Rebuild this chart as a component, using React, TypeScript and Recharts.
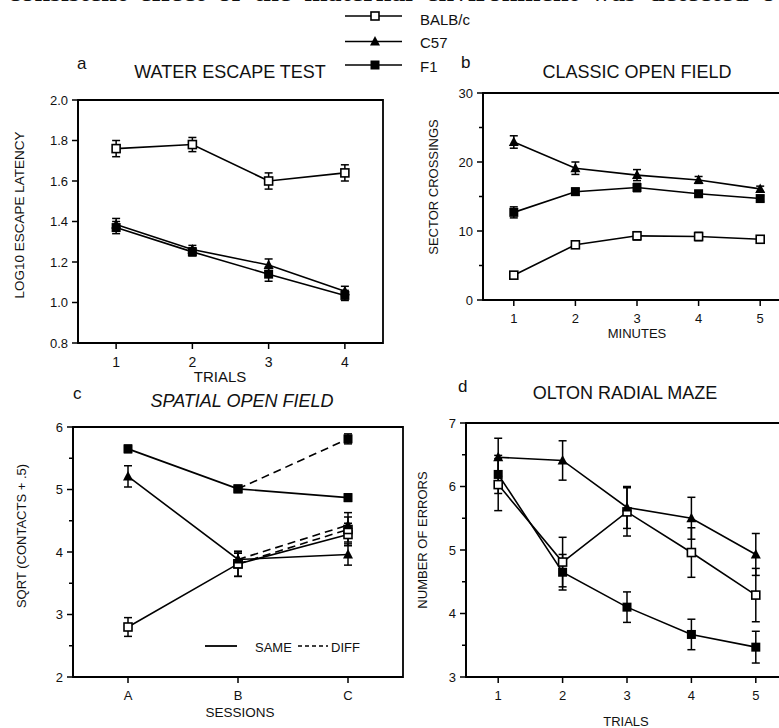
import React from 'react';
import { LineChart, Line, XAxis, YAxis, ErrorBar, ReferenceArea } from 'recharts';

const FONT = '"Liberation Sans", Arial, Helvetica, sans-serif';

// ---------- Panel a: water escape test ----------
const escapeTrials = ['1', '2', '3', '4'];
const escapeBalb = [1.76, 1.78, 1.6, 1.64];
const escapeBalbErr = [0.04, 0.035, 0.04, 0.04];
const escapeC57 = [1.385, 1.262, 1.185, 1.055];
const escapeC57Err = [0.03, 0.02, 0.03, 0.025];
const escapeF1 = [1.37, 1.25, 1.14, 1.035];
const escapeF1Err = [0.03, 0.02, 0.035, 0.025];
const escapeYMajor = [0.8, 1.0, 1.2, 1.4, 1.6, 1.8, 2.0];
const escapeYMinor: number[] = [];

// ---------- Panel b: classic open field ----------
const openMinutes = ['1', '2', '3', '4', '5'];
const openBalb = [3.6, 8.0, 9.3, 9.2, 8.8];
const openBalbErr = [0.3, 0.5, 0.6, 0.6, 0.5];
const openC57 = [22.9, 19.1, 18.1, 17.4, 16.1];
const openC57Err = [0.9, 0.9, 0.8, 0.5, 0.4];
const openF1 = [12.7, 15.7, 16.3, 15.4, 14.7];
const openF1Err = [0.8, 0.5, 0.6, 0.4, 0.4];
const openYMajor = [0, 10, 20, 30];
const openYMinor = [5, 15, 25];

// ---------- Panel c: spatial open field ----------
const spatialSessions = ['A', 'B', 'C'];
const spatialBalbSame = [2.8, 3.81, 4.28];
const spatialBalbSameErr = [0.15, 0.2, 0.18];
const spatialC57Same = [5.21, 3.88, 3.96];
const spatialC57SameErr = [0.17, 0.1, 0.17];
const spatialF1Same = [5.65, 5.01, 4.87];
const spatialF1SameErr = [0.06, 0.04, 0.06];
const spatialDiffSessions = ['B', 'C'];
const spatialBalbDiff = [3.81, 4.36];
const spatialBalbDiffErr = [0.2, 0.2];
const spatialC57Diff = [3.88, 4.43];
const spatialC57DiffErr = [0.1, 0.2];
const spatialF1Diff = [5.01, 5.81];
const spatialF1DiffErr = [0.04, 0.08];
const spatialYMajor = [2, 3, 4, 5, 6];
const spatialYMinor = [2.5, 3.5, 4.5, 5.5];

// ---------- Panel d: Olton radial maze ----------
const mazeTrials = ['1', '2', '3', '4', '5'];
const mazeBalb = [6.03, 4.81, 5.6, 4.96, 4.29];
const mazeBalbErr = [0.41, 0.39, 0.38, 0.39, 0.42];
const mazeC57 = [6.46, 6.41, 5.67, 5.5, 4.93];
const mazeC57Err = [0.3, 0.31, 0.33, 0.33, 0.33];
const mazeF1 = [6.19, 4.65, 4.1, 3.67, 3.47];
const mazeF1Err = [0.3, 0.28, 0.24, 0.24, 0.25];
const mazeYMajor = [3, 4, 5, 6, 7];
const mazeYMinor = [3.5, 4.5, 5.5, 6.5];

// ---------- Legend ----------
const strainNames = ['BALB/c', 'C57', 'F1'];
const strainShapes = ['open', 'tri', 'fill'];

type Shape = 'open' | 'tri' | 'fill';

const toRows = (labels: string[], values: number[], errs: number[], allLabels: string[]) =>
  labels.map((l, i) => ({ x: allLabels.indexOf(l) + 1, y: values[i], e: errs[i] }));

function markerEl(shape: Shape, cx: number, cy: number, key?: any) {
  if (shape === 'open')
    return <rect key={key} x={cx - 4} y={cy - 4} width={8} height={8} fill="#fff" stroke="#000" strokeWidth={1.6} />;
  if (shape === 'fill')
    return <rect key={key} x={cx - 4.5} y={cy - 4.5} width={9} height={9} fill="#000" />;
  return <polygon key={key} points={`${cx},${cy - 5.5} ${cx + 5},${cy + 4} ${cx - 5},${cy + 4}`} fill="#000" />;
}

const dotFor = (shape: Shape) => (props: any) => {
  const { cx, cy, index } = props;
  if (cx == null || cy == null || isNaN(cx) || isNaN(cy)) return <g key={`e${index}`} />;
  return markerEl(shape, cx, cy, `d${index}`);
};

const YTick = (props: any) => {
  const { x, y, payload, majors, fmt } = props;
  const v = payload.value;
  const major = majors.some((m: number) => Math.abs(m - v) < 1e-6);
  const ax = x + 11;
  return (
    <g>
      <line x1={ax - (major ? 6 : 4)} x2={ax} y1={y} y2={y} stroke="#000" strokeWidth={1.5} />
      {major && (
        <text x={ax - 10} y={y} dy="0.35em" textAnchor="end" fontSize={13} fontFamily={FONT} fill="#111">
          {fmt(v)}
        </text>
      )}
    </g>
  );
};

type SeriesDef = { name: string; shape: Shape; dashed?: boolean; rows: { x: number; y: number; e: number }[] };

type PanelProps = {
  left: number;
  top: number;
  width: number;
  height: number;
  xDomain: [number, number];
  xLabels: string[];
  xFont: number;
  yDomain: [number, number];
  yMajor: number[];
  yMinor: number[];
  yFmt: (v: number) => string;
  series: SeriesDef[];
};

function Panel(p: PanelProps) {
  const YW = 40;
  const MT = 6;
  const MR = 6;
  const XH = 32;
  const xTicks = p.xLabels.map((_, i) => i + 1);
  const yTicks = [...p.yMajor, ...p.yMinor].sort((a, b) => a - b);
  return (
    <div style={{ position: 'absolute', left: p.left - YW, top: p.top - MT }}>
      <LineChart width={YW + p.width + MR} height={MT + p.height + XH} margin={{ top: MT, right: MR, bottom: 0, left: 0 }}>
        <XAxis
          type="number"
          dataKey="x"
          domain={p.xDomain}
          ticks={xTicks}
          interval={0}
          allowDataOverflow
          tickFormatter={(v: number) => p.xLabels[v - 1]}
          height={XH}
          tickSize={6}
          tickMargin={8}
          axisLine={{ stroke: '#000', strokeWidth: 1.8 }}
          tickLine={{ stroke: '#000', strokeWidth: 1.5 }}
          tick={{ fill: '#111', fontSize: p.xFont, fontFamily: FONT }}
        />
        <YAxis
          type="number"
          domain={p.yDomain}
          ticks={yTicks}
          interval={0}
          allowDataOverflow
          width={YW}
          tickSize={6}
          tickMargin={5}
          tickLine={false}
          axisLine={{ stroke: '#000', strokeWidth: 1.8 }}
          tick={(tp: any) => <YTick {...tp} majors={p.yMajor} fmt={p.yFmt} />}
        />
        <ReferenceArea
          x1={p.xDomain[0]}
          x2={p.xDomain[1]}
          y1={p.yDomain[0]}
          y2={p.yDomain[1]}
          fill="none"
          fillOpacity={0}
          stroke="#000"
          strokeWidth={1.8}
          ifOverflow="visible"
        />
        {p.series.map((s) => (
          <Line
            key={s.name}
            data={s.rows}
            dataKey="y"
            name={s.name}
            type="linear"
            stroke="#000"
            strokeWidth={1.6}
            strokeDasharray={s.dashed ? '8 5' : undefined}
            dot={dotFor(s.shape)}
            activeDot={false}
            isAnimationActive={false}
          >
            <ErrorBar dataKey="e" direction="y" width={4} stroke="#000" strokeWidth={1.5} />
          </Line>
        ))}
      </LineChart>
    </div>
  );
}

const fmt1 = (v: number) => v.toFixed(1);
const fmt0 = (v: number) => String(v);

export default function App() {
  const legendY = [16, 41.5, 65];
  const legendTextY = [24.5, 48, 71.5];
  return (
    <div
      style={{
        position: 'absolute',
        left: 0,
        top: 0,
        width: 779,
        height: 728,
        overflow: 'hidden',
        background: '#fff',
      }}
    >
      <div
        style={{
          position: 'absolute',
          left: 8,
          top: -22,
          whiteSpace: 'nowrap',
          fontFamily: '"Liberation Serif", "DejaVu Serif", serif',
          fontWeight: 'bold',
          fontSize: 28,
          lineHeight: '28px',
          wordSpacing: 6,
          color: '#111',
        }}
      >
        consistent effect of the maternal environment was detected o
      </div>

      <Panel
        left={78}
        top={100}
        width={305}
        height={243}
        xDomain={[0.5, 4.5]}
        xLabels={escapeTrials}
        xFont={14}
        yDomain={[0.8, 2.0]}
        yMajor={escapeYMajor}
        yMinor={escapeYMinor}
        yFmt={fmt1}
        series={[
          { name: 'BALB/c', shape: 'open', rows: toRows(escapeTrials, escapeBalb, escapeBalbErr, escapeTrials) },
          { name: 'C57', shape: 'tri', rows: toRows(escapeTrials, escapeC57, escapeC57Err, escapeTrials) },
          { name: 'F1', shape: 'fill', rows: toRows(escapeTrials, escapeF1, escapeF1Err, escapeTrials) },
        ]}
      />
      <Panel
        left={483}
        top={93}
        width={308}
        height={207}
        xDomain={[0.5, 5.5]}
        xLabels={openMinutes}
        xFont={13}
        yDomain={[0, 30]}
        yMajor={openYMajor}
        yMinor={openYMinor}
        yFmt={fmt0}
        series={[
          { name: 'BALB/c', shape: 'open', rows: toRows(openMinutes, openBalb, openBalbErr, openMinutes) },
          { name: 'C57', shape: 'tri', rows: toRows(openMinutes, openC57, openC57Err, openMinutes) },
          { name: 'F1', shape: 'fill', rows: toRows(openMinutes, openF1, openF1Err, openMinutes) },
        ]}
      />
      <Panel
        left={73}
        top={427}
        width={330}
        height={250}
        xDomain={[0.5, 3.5]}
        xLabels={spatialSessions}
        xFont={13}
        yDomain={[2, 6]}
        yMajor={spatialYMajor}
        yMinor={spatialYMinor}
        yFmt={fmt0}
        series={[
          { name: 'BALB/c same', shape: 'open', rows: toRows(spatialSessions, spatialBalbSame, spatialBalbSameErr, spatialSessions) },
          { name: 'C57 same', shape: 'tri', rows: toRows(spatialSessions, spatialC57Same, spatialC57SameErr, spatialSessions) },
          { name: 'F1 same', shape: 'fill', rows: toRows(spatialSessions, spatialF1Same, spatialF1SameErr, spatialSessions) },
          { name: 'BALB/c diff', shape: 'open', dashed: true, rows: toRows(spatialDiffSessions, spatialBalbDiff, spatialBalbDiffErr, spatialSessions) },
          { name: 'C57 diff', shape: 'tri', dashed: true, rows: toRows(spatialDiffSessions, spatialC57Diff, spatialC57DiffErr, spatialSessions) },
          { name: 'F1 diff', shape: 'fill', dashed: true, rows: toRows(spatialDiffSessions, spatialF1Diff, spatialF1DiffErr, spatialSessions) },
        ]}
      />
      <Panel
        left={466}
        top={423}
        width={322}
        height={254}
        xDomain={[0.5, 5.5]}
        xLabels={mazeTrials}
        xFont={13}
        yDomain={[3, 7]}
        yMajor={mazeYMajor}
        yMinor={mazeYMinor}
        yFmt={fmt0}
        series={[
          { name: 'BALB/c', shape: 'open', rows: toRows(mazeTrials, mazeBalb, mazeBalbErr, mazeTrials) },
          { name: 'C57', shape: 'tri', rows: toRows(mazeTrials, mazeC57, mazeC57Err, mazeTrials) },
          { name: 'F1', shape: 'fill', rows: toRows(mazeTrials, mazeF1, mazeF1Err, mazeTrials) },
        ]}
      />

      <svg
        width={779}
        height={728}
        style={{ position: 'absolute', left: 0, top: 0, pointerEvents: 'none' }}
        fontFamily={FONT}
        fill="#111"
      >
        {/* strain legend */}
        {strainNames.map((n, i) => (
          <g key={n}>
            <line x1={345} x2={402} y1={legendY[i]} y2={legendY[i]} stroke="#000" strokeWidth={1.6} />
            {markerEl(strainShapes[i] as Shape, 375, legendY[i])}
            <text x={420} y={legendTextY[i]} fontSize={15}>
              {n}
            </text>
          </g>
        ))}

        {/* panel letters */}
        <text x={77} y={69} fontSize={17}>a</text>
        <text x={461} y={68} fontSize={17}>b</text>
        <text x={73} y={399} fontSize={17}>c</text>
        <text x={458} y={392} fontSize={17}>d</text>

        {/* titles */}
        <text x={230} y={78} fontSize={18} textAnchor="middle">WATER ESCAPE TEST</text>
        <text x={637} y={78} fontSize={18} textAnchor="middle">CLASSIC OPEN FIELD</text>
        <text x={242} y={407} fontSize={18} textAnchor="middle" fontStyle="italic">SPATIAL OPEN FIELD</text>
        <text x={625} y={399} fontSize={18} textAnchor="middle">OLTON RADIAL MAZE</text>

        {/* x axis titles */}
        <text x={220} y={382} fontSize={15} textAnchor="middle">TRIALS</text>
        <text x={637} y={337.5} fontSize={13} textAnchor="middle">MINUTES</text>
        <text x={240} y={717} fontSize={13.5} textAnchor="middle">SESSIONS</text>
        <text x={626} y={726} fontSize={13} textAnchor="middle">TRIALS</text>

        {/* y axis titles */}
        <text x={24} y={215} fontSize={13.5} textAnchor="middle" transform="rotate(-90 24 215)">LOG10 ESCAPE LATENCY</text>
        <text x={438} y={187} fontSize={13} textAnchor="middle" transform="rotate(-90 438 187)">SECTOR CROSSINGS</text>
        <text x={25.5} y={536} fontSize={13} textAnchor="middle" transform="rotate(-90 25.5 536)">SQRT (CONTACTS + .5)</text>
        <text x={427} y={540} fontSize={13} textAnchor="middle" transform="rotate(-90 427 540)">NUMBER OF ERRORS</text>

        {/* same / diff legend */}
        <line x1={205} x2={237} y1={646} y2={646} stroke="#000" strokeWidth={1.8} />
        <text x={255} y={652} fontSize={13}>SAME</text>
        <line x1={298} x2={328} y1={646} y2={646} stroke="#000" strokeWidth={1.5} strokeDasharray="4 3" />
        <text x={331} y={652} fontSize={13}>DIFF</text>
      </svg>
    </div>
  );
}
